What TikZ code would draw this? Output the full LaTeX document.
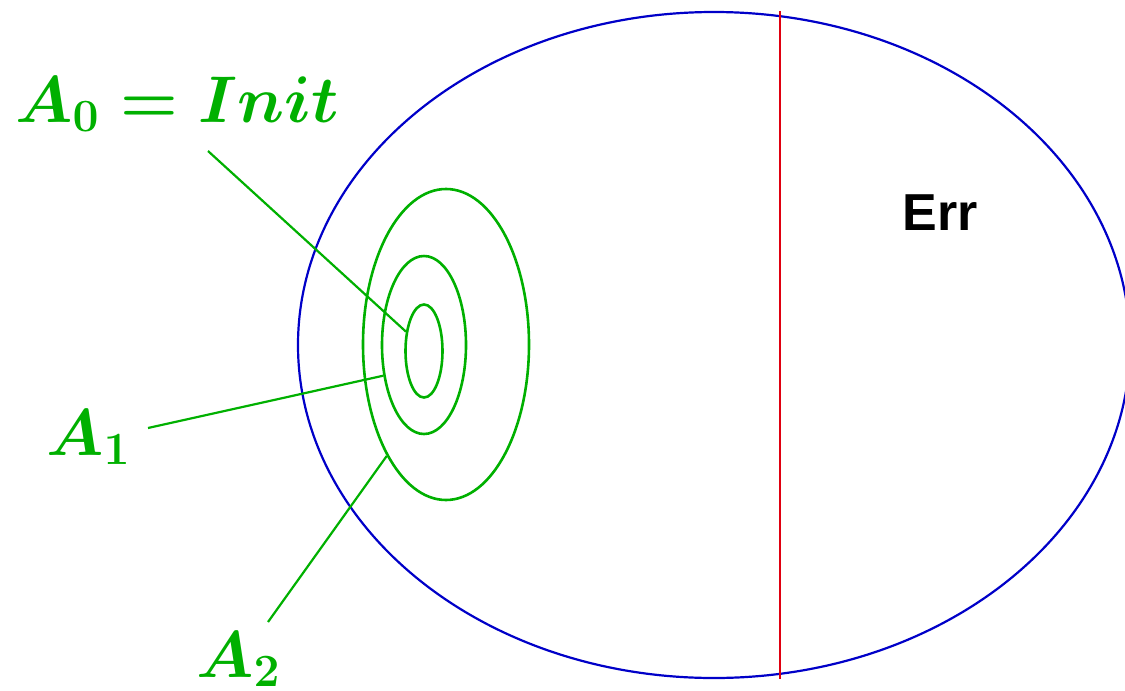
\RequirePackage{fix-cm}
\documentclass[tikz,border=0pt]{standalone}
\usepackage[no-math]{fontspec}
\usetikzlibrary{shapes.geometric}
\newfontfamily\errfont{Liberation Sans}
\definecolor{greenA}{HTML}{00B000}
\definecolor{blueR}{HTML}{0000C8}
\definecolor{redE}{HTML}{E00010}
\tikzset{
  region/.style={
    ellipse,
    draw=blueR,
    line width=2.2pt,
    inner sep=0pt
  },
  level/.style={
    ellipse,
    draw=greenA,
    line width=2.6pt,
    inner sep=0pt
  },
  pointer/.style={
    draw=greenA,
    line width=2.2pt
  },
  setlabel/.style={
    font=\fontsize{66}{78}\selectfont\boldmath,
    text=greenA,
    inner sep=0pt,
    anchor=base west
  },
  errlabel/.style={
    font=\errfont\bfseries\fontsize{52}{60}\selectfont,
    text=black,
    inner sep=0pt
  },
  errline/.style={
    draw=redE,
    line width=2.2pt
  }
}

\begin{document}
\begin{tikzpicture}[x=1pt,y=-1pt]

\useasboundingbox (0,0) rectangle (1125,691);

% State space
\node[region, minimum width=832pt, minimum height=666pt] (space) at (714,345) {};

% Error region border
\draw[errline] (780,0 |- space.north) -- (780,0 |- space.south);
\node[errlabel] (err) at (940,213) {Err};

% Nested approximations
\node[level, minimum width=166pt, minimum height=311pt] (a2) at (446,344.5) {};
\node[level, minimum width=84pt, minimum height=178pt] (a1) at (424,345) {};
\node[level, minimum width=37pt, minimum height=93pt] (a0) at (424,351) {};

% Labels
\node[setlabel] (l0) at (15,122) {$A_0 = Init$};
\node[setlabel] (l1) at (46,455) {$A_1$};
\node[setlabel] (l2) at (196,677) {$A_2$};

\coordinate (p0) at (208,151);
\coordinate (p1) at (148,428);
\coordinate (p2) at (268,622);

\draw[pointer] (p0) -- (a0.133);
\draw[pointer] (p1) -- (a1.217);
\draw[pointer] (p2) -- (a2.242);

\end{tikzpicture}
\end{document}
